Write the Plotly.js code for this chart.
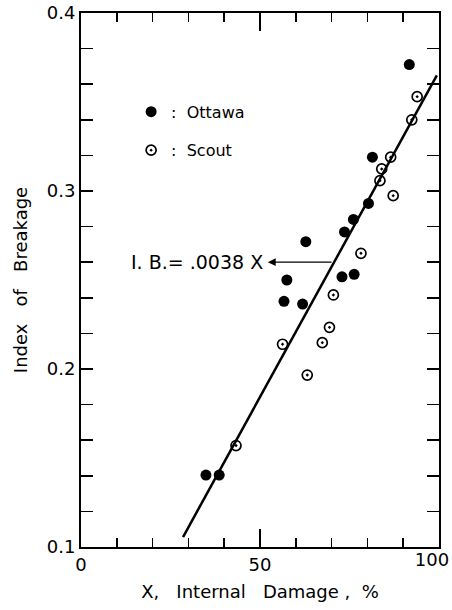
<!DOCTYPE html>
<html>
<head>
<meta charset="utf-8">
<script src="https://cdn.plot.ly/plotly-3.0.1.min.js"></script>
<style>html,body{margin:0;padding:0;background:#fff;}#chart{width:452px;height:610px;}</style>
</head>
<body>
<div id="chart"></div>
<script>
// Data
var ottawaX = [91.7, 81.4, 80.3, 76.1, 73.6, 62.8, 57.5, 72.9, 76.3, 56.7, 61.9, 34.9, 38.6];
var ottawaY = [0.371, 0.319, 0.293, 0.284, 0.277, 0.2715, 0.250, 0.2518, 0.2532, 0.238, 0.2365, 0.1404, 0.1404];
var scoutX = [93.9, 92.4, 86.5, 84.0, 83.5, 87.2, 78.2, 70.5, 69.4, 67.4, 56.3, 63.2, 43.3];
var scoutY = [0.353, 0.340, 0.319, 0.3124, 0.3058, 0.2974, 0.265, 0.2416, 0.2234, 0.2148, 0.2139, 0.1966, 0.157];
var fitX = [28.5, 99.4];
var fitY = [0.1056, 0.365];
var xTickVals = [0, 50];
var xTickText = ['0', '50'];
var xEndTickVals = [100];
var xEndTickText = ['100'];
var yTickVals = [0.1, 0.2, 0.3, 0.4];
var yTickText = ['0.1', '0.2', '0.3', '0.4'];
var equationText = 'I. B.= .0038 X';
var arrowHead = {x: 52.2, y: 0.26};
var arrowTail = {x: 70.4, y: 0.26};
var textRightX = 51.4;

var FONT = 'DejaVu Sans, sans-serif';
var SP = '\u00a0\u00a0\u00a0';

var traces = [
  {x: fitX, y: fitY, mode: 'lines', line: {color: '#000', width: 2.5}, showlegend: false, hoverinfo: 'skip'},
  {x: ottawaX, y: ottawaY, mode: 'markers', name: ':\u00a0\u00a0Ottawa',
   marker: {symbol: 'circle', size: 11, color: '#000'}, legend: 'legend'},
  {x: scoutX, y: scoutY, mode: 'markers', name: ':\u00a0\u00a0Scout',
   marker: {symbol: 'circle-open-dot', size: 10, color: '#000', line: {width: 1.7, color: '#000'}}, legend: 'legend2'},
  {x: [], y: [], xaxis: 'x2', yaxis: 'y', mode: 'markers', showlegend: false, hoverinfo: 'skip'}
];

var axisCommon = {
  showline: true, linecolor: '#000', linewidth: 2, mirror: 'ticks',
  ticks: 'inside', tickcolor: '#000', tickwidth: 1.5,
  showgrid: false, zeroline: false,
  tickfont: {family: FONT, size: 18, color: '#000'}
};

var layout = {
  width: 452, height: 610,
  margin: {l: 81, r: 13, t: 13, b: 63},
  paper_bgcolor: '#fff', plot_bgcolor: '#fff',
  font: {family: FONT, color: '#000'},
  xaxis: Object.assign({}, axisCommon, {
    range: [0, 100], tickvals: xTickVals, ticktext: xTickText, ticklen: 18,
    minor: {dtick: 10, ticklen: 9, tickwidth: 1.5, tickcolor: '#000', ticks: 'inside'},
    title: {text: SP + 'X,' + SP + 'Internal' + SP + 'Damage\u00a0,\u00a0\u00a0%', font: {family: FONT, size: 18, color: '#000'}, standoff: 12}
  }),
  xaxis2: {
    overlaying: 'x', anchor: 'y', side: 'bottom', range: [0, 100],
    tickvals: xEndTickVals, ticktext: xEndTickText, ticks: '', ticklabelshift: -7,
    showline: false, showgrid: false, zeroline: false,
    tickfont: {family: FONT, size: 18, color: '#000'}
  },
  yaxis: Object.assign({}, axisCommon, {
    range: [0.1, 0.4], tickvals: yTickVals, ticktext: yTickText, ticklen: 12,
    minor: {dtick: 0.02, ticklen: 12, tickwidth: 1.5, tickcolor: '#000', ticks: 'inside'},
    title: {text: '\u00a0\u00a0\u00a0\u00a0\u00a0Index' + SP + 'of' + SP + 'Breakage', font: {family: FONT, size: 18, color: '#000'}, standoff: 14}
  }),
  legend: {x: 0.14, y: 0.815, xanchor: 'left', yanchor: 'middle', bgcolor: 'rgba(0,0,0,0)',
           font: {family: FONT, size: 16, color: '#000'}},
  legend2: {x: 0.14, y: 0.743, xanchor: 'left', yanchor: 'middle', bgcolor: 'rgba(0,0,0,0)',
            font: {family: FONT, size: 16, color: '#000'}},
  annotations: [
    {x: textRightX, y: arrowHead.y, xref: 'x', yref: 'y', text: equationText, showarrow: false,
     xanchor: 'right', yanchor: 'middle', font: {family: FONT, size: 19, color: '#000'}},
    {x: arrowHead.x, y: arrowHead.y, ax: arrowTail.x, ay: arrowTail.y, xref: 'x', yref: 'y',
     axref: 'x', ayref: 'y', text: '', showarrow: true, arrowhead: 2, arrowsize: 1.2, arrowwidth: 1.3, arrowcolor: '#000'}
  ]
};

Plotly.newPlot('chart', traces, layout, {displayModeBar: false, staticPlot: true});
</script>
</body>
</html>
